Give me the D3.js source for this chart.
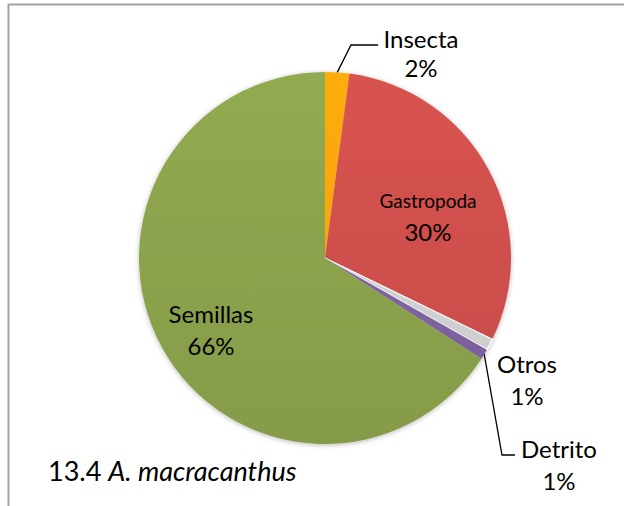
<!DOCTYPE html>
<html>
<head>
<meta charset="utf-8">
<script src="https://cdn.jsdelivr.net/npm/d3@7"></script>
<style>
  html, body { margin: 0; padding: 0; background: #fff; }
  svg { display: block; font-family: Lato, "Open Sans", sans-serif; }
</style>
</head>
<body>
<div id="chart"></div>
<script>
// slice data, clockwise from 12 o'clock
const categories = ["Insecta", "Gastropoda", "Otros", "Detrito", "Semillas"];
const values = [2.1, 30.1, 1.0, 0.9, 65.9];
const colors = ["#ffa50f", "#d0504d", "#d4d4d4", "#8064a2", "#8ca34d"];

const titleNumber = "13.4";
const titleSpecies = "A. macracanthus";

const width = 624, height = 506;
const cx = 325, cy = 258, radius = 186;

// label layout relative to the pie center (text center x, first baseline y)
const labelLayout = {
  Insecta:    { x: 96,  y: -210, size: 24, nameSize: 24, gap: 29, leader: [[26, -213], [53, -213]] },
  Gastropoda: { x: 103, y: -50,  size: 24, nameSize: 19, gap: 33 },
  Otros:      { x: 202, y: 115,  size: 24, nameSize: 24, gap: 32 },
  Detrito:    { x: 234, y: 200,  size: 24, nameSize: 24, gap: 32, leader: [[177, 197], [190, 197]] },
  Semillas:   { x: -114, y: 65,  size: 24, nameSize: 24, gap: 32 }
};

const svg = d3.select("#chart").append("svg")
    .attr("width", width)
    .attr("height", height);

const defs = svg.append("defs");

const shadow = defs.append("filter")
    .attr("id", "shadow")
    .attr("x", "-10%").attr("y", "-10%")
    .attr("width", "120%").attr("height", "120%");
shadow.append("feDropShadow")
    .attr("dx", 0).attr("dy", 1)
    .attr("stdDeviation", 2.5)
    .attr("flood-color", "#000")
    .attr("flood-opacity", 0.28);

// subtle top-to-bottom shading like the office theme (pie-local coords)
colors.forEach((c, i) => {
  const grad = defs.append("linearGradient")
      .attr("id", "grad" + i)
      .attr("gradientUnits", "userSpaceOnUse")
      .attr("x1", 0).attr("y1", -radius)
      .attr("x2", 0).attr("y2", radius);
  grad.append("stop").attr("offset", "0%").attr("stop-color", d3.color(c).brighter(0.12));
  grad.append("stop").attr("offset", "100%").attr("stop-color", d3.color(c).darker(0.15));
});

// frame (only top and left edges show in the crop)
svg.append("rect")
    .attr("x", 8.5).attr("y", 4.5)
    .attr("width", width + 10).attr("height", height + 10)
    .attr("fill", "none")
    .attr("stroke", "#a3a3a3")
    .attr("stroke-width", 2);

const total = d3.sum(values);
const data = categories.map((name, i) => ({ name, value: values[i], color: colors[i], idx: i }));

const pie = d3.pie()
    .sort(null)
    .value(d => d.value)
    .startAngle(0)
    .endAngle(2 * Math.PI);

const arc = d3.arc().innerRadius(0).outerRadius(radius);
const arcs = pie(data);

const g = svg.append("g").attr("transform", `translate(${cx},${cy})`);

g.append("g")
    .attr("filter", "url(#shadow)")
    .selectAll("path")
    .data(arcs)
    .join("path")
    .attr("d", arc)
    .attr("fill", d => `url(#grad${d.data.idx})`)
    .attr("stroke", "#fff")
    .attr("stroke-width", d => d.data.name === "Otros" ? 1.2 : 0);

const pct = d3.format(".0%");

// leader lines
arcs.forEach(d => {
  const lay = labelLayout[d.data.name];
  if (!lay.leader) return;
  const mid = (d.startAngle + d.endAngle) / 2;
  const start = [Math.sin(mid) * radius, -Math.cos(mid) * radius];
  g.append("path")
      .attr("d", d3.line()([start, ...lay.leader]))
      .attr("fill", "none")
      .attr("stroke", "#000")
      .attr("stroke-width", 1.3);
});

// labels
const labels = g.append("g").attr("fill", "#000").attr("text-anchor", "middle");
arcs.forEach(d => {
  const lay = labelLayout[d.data.name];
  const t = labels.append("text");
  t.append("tspan")
      .attr("x", lay.x).attr("y", lay.y)
      .attr("font-size", lay.nameSize)
      .text(d.data.name);
  t.append("tspan")
      .attr("x", lay.x).attr("y", lay.y + lay.gap)
      .attr("font-size", lay.size)
      .text(pct(d.data.value / total));
});

// title
const title = svg.append("text")
    .attr("x", 48).attr("y", 481)
    .attr("font-size", 27)
    .attr("fill", "#000");
title.append("tspan").text(titleNumber + " ");
title.append("tspan").attr("font-style", "italic").text(titleSpecies);
</script>
</body>
</html>
